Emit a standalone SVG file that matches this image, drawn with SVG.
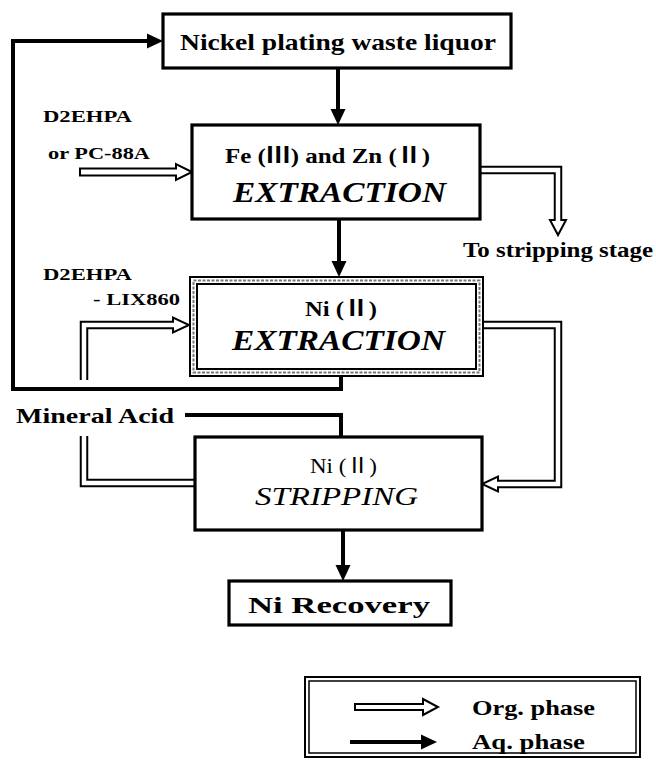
<svg xmlns="http://www.w3.org/2000/svg" width="656" height="765" viewBox="0 0 656 765">
<style>
.bx{fill:#fff;stroke:#000;stroke-width:3.2}
.t{font-family:"Liberation Serif","Times New Roman",serif;fill:#000}
.r{font-family:"Noto Sans CJK JP","Liberation Serif",serif}
.b{font-weight:bold}
.i{font-style:italic}
.aq{fill:none;stroke:#000;stroke-width:4}
.ob{fill:none;stroke:#000;stroke-width:8.5}
.ow{fill:none;stroke:#fff;stroke-width:4.5}
.oh{fill:#fff;stroke:#000;stroke-width:2;stroke-linejoin:miter}
</style>
<defs>
<marker id="ah" markerUnits="userSpaceOnUse" markerWidth="20" markerHeight="20" viewBox="0 -10 20 20" refX="0" refY="0" orient="auto" overflow="visible">
<path d="M0,-7.5 L16,0 L0,7.5 Z" fill="#000"/>
</marker>
</defs>
<rect width="656" height="765" fill="#fff"/>

<g id="connectors">
<path class="aq" d="M341,376 V389 H13 V41 H147" marker-end="url(#ah)"/>
<path class="aq" d="M338,68 V109" marker-end="url(#ah)"/>
<path class="aq" d="M339,219 V261" marker-end="url(#ah)"/>
<path class="aq" d="M185,415 H341 V437"/>
<path class="aq" d="M343,530 V565" marker-end="url(#ah)"/>
<path class="oh" d="M80,168.5 H176 V164 L192,172 L176,180 V175.5 H80 Z"/>
<path class="ob" d="M481,170 H558 V220"/>
<path class="oh" d="M550,220 H566 L558,235 Z"/>
<path class="ow" d="M481,170 H558 V222"/>
<path class="ob" d="M484,325 H558 V484 H498"/>
<path class="oh" d="M498,476.5 V491.5 L482,484 Z"/>
<path class="ow" d="M484,325 H558 V484 H496"/>
<path class="ob" d="M196,483 H84 V436"/>
<path class="ow" d="M196,483 H84 V436"/>
<path class="ob" d="M84,380 V325 H173"/>
<path class="oh" d="M173,317.5 V332.5 L189,325 Z"/>
<path class="ow" d="M84,380 V325 H175"/>
</g>

<g id="n1">
<rect class="bx" x="163" y="14" width="348" height="54"/>
<text class="t b" x="180" y="50" font-size="23" textLength="316" lengthAdjust="spacingAndGlyphs">Nickel plating waste liquor</text>
</g>

<g id="n2">
<rect class="bx" x="192" y="125" width="288" height="94" stroke-width="3.6"/>
<text class="t b" x="225" y="163" font-size="22" textLength="205" lengthAdjust="spacingAndGlyphs">Fe (<tspan class="r">Ⅲ</tspan>) and Zn (<tspan class="r">Ⅱ</tspan>)</text>
<text class="t b i" x="233" y="202" font-size="29" textLength="213" lengthAdjust="spacingAndGlyphs">EXTRACTION</text>
</g>

<g id="n3">
<rect x="190" y="277" width="293" height="99" fill="#fff" stroke="#000" stroke-width="2"/>
<rect x="193.5" y="280.5" width="286" height="92" fill="none" stroke="#777" stroke-width="2" stroke-dasharray="3,1.5"/>
<rect x="197" y="284" width="279" height="85" fill="none" stroke="#000" stroke-width="2"/>
<text class="t b" x="305" y="316" font-size="22" textLength="72" lengthAdjust="spacingAndGlyphs">Ni (<tspan class="r">Ⅱ</tspan>)</text>
<text class="t b i" x="232" y="350" font-size="29" textLength="213" lengthAdjust="spacingAndGlyphs">EXTRACTION</text>
</g>

<g id="n4">
<rect class="bx" x="195" y="437" width="287" height="93" stroke-width="3.6"/>
<text class="t" x="310" y="473" font-size="22" textLength="67" lengthAdjust="spacingAndGlyphs">Ni (<tspan class="r">Ⅱ</tspan>)</text>
<text class="t i" x="255" y="505" font-size="26" textLength="163" lengthAdjust="spacingAndGlyphs">STRIPPING</text>
</g>

<g id="n5">
<rect class="bx" x="229" y="581" width="222" height="44"/>
<text class="t b" x="248" y="613" font-size="24" textLength="182" lengthAdjust="spacingAndGlyphs">Ni Recovery</text>
</g>

<g id="labels">
<text class="t b" x="43" y="122" font-size="17" textLength="89" lengthAdjust="spacingAndGlyphs">D2EHPA</text>
<text class="t b" x="48" y="159" font-size="17" textLength="102" lengthAdjust="spacingAndGlyphs">or PC-88A</text>
<text class="t b" x="43" y="280" font-size="17" textLength="89" lengthAdjust="spacingAndGlyphs">D2EHPA</text>
<text class="t b" x="93" y="305" font-size="17" textLength="87" lengthAdjust="spacingAndGlyphs">- LIX860</text>
<text class="t b" x="463" y="257" font-size="20" textLength="190" lengthAdjust="spacingAndGlyphs">To stripping stage</text>
<text class="t b" x="16" y="423" font-size="21" textLength="158" lengthAdjust="spacingAndGlyphs">Mineral Acid</text>
</g>

<g id="legend">
<rect x="305" y="677" width="335" height="80" fill="#fff" stroke="#000" stroke-width="2"/>
<rect x="309" y="681" width="327" height="72" fill="none" stroke="#000" stroke-width="1.5"/>
<path class="oh" d="M355,704 H423 V699 L438,707 L423,715 V710 H355 Z"/>
<text class="t b" x="472" y="715" font-size="21" textLength="123" lengthAdjust="spacingAndGlyphs">Org. phase</text>
<path class="aq" d="M350,742 H421" marker-end="url(#ah)"/>
<text class="t b" x="472" y="749" font-size="21" textLength="113" lengthAdjust="spacingAndGlyphs">Aq. phase</text>
</g>
</svg>
